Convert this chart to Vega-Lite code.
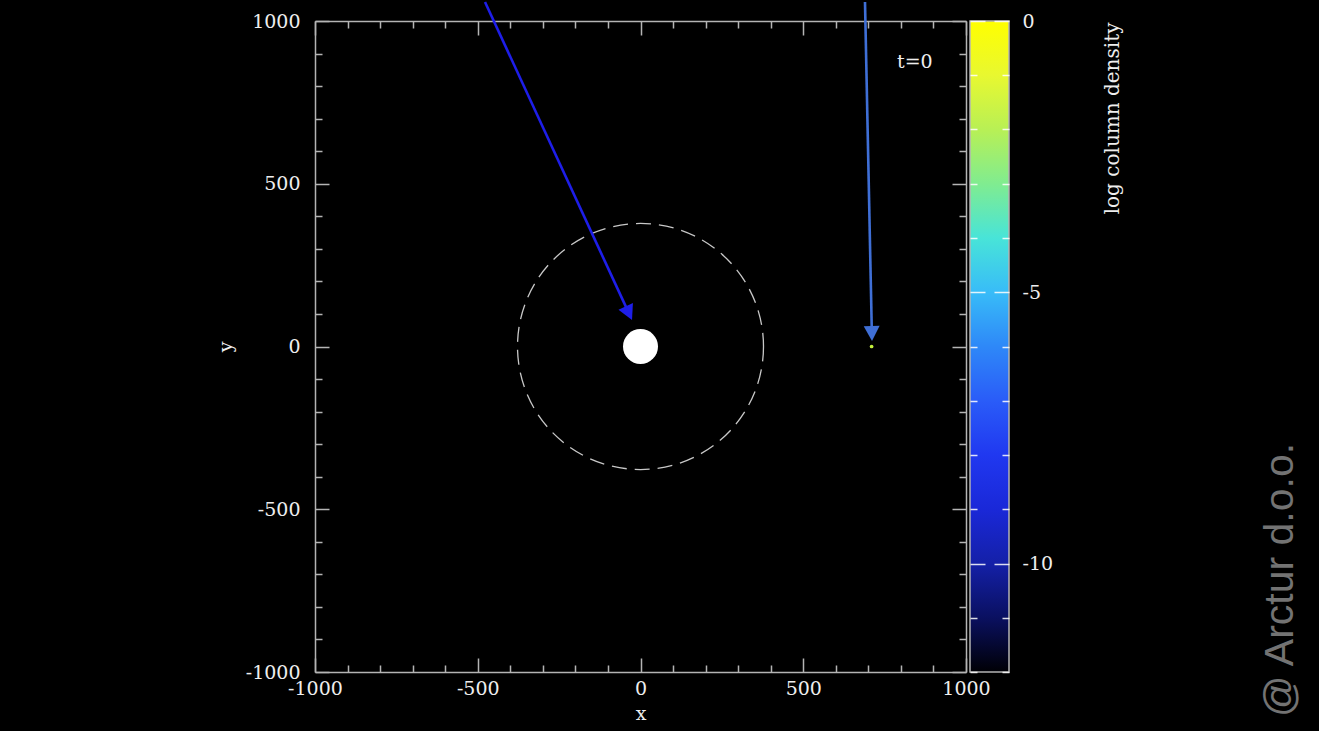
{
  "$schema": "https://vega.github.io/schema/vega-lite/v6.json",
  "background": "black",
  "padding": {"left": 216, "top": 0, "right": 18, "bottom": 8},
  "width": 651,
  "height": 651,
  "datasets": {
    "arrows": [
      {"id": "a", "x": -477.7, "y": 1058.4, "x2": -39.0, "y2": 109.4, "tx": -26.1, "ty": 81.4},
      {"id": "b", "x": 689.7, "y": 1058.4, "x2": 710.6, "y2": 47.6, "tx": 711.2, "ty": 16.9}
    ],
    "colorbar": [{"left": 1012.3, "right": 1132.1, "lo": -12, "hi": 0}]
  },
  "layer": [
    {
      "data": {"values": [{"x": 0, "y": 0, "name": "circle"}]},
      "mark": {"type": "point", "shape": "circle", "size": 60516, "filled": false, "stroke": "#c8c8c8", "strokeWidth": 1.3, "strokeDash": [15, 8], "opacity": 1},
      "encoding": {
        "x": {"field": "x", "type": "quantitative", "scale": {"domain": [-1000, 1000], "nice": false, "zero": false},
          "axis": {"orient": "bottom", "values": [-1000, -900, -800, -700, -600, -500, -400, -300, -200, -100, 0, 100, 200, 300, 400, 500, 600, 700, 800, 900, 1000],
            "tickSize": {"condition": {"test": "datum.value % 500 === 0", "value": -14}, "value": -7},
            "labelExpr": "datum.value % 500 === 0 ? '' + datum.value : ''",
            "labelPadding": 21, "labelFont": "DejaVu Serif", "labelFontSize": 19, "labelColor": "#eeeeee",
            "labelFlush": false, "labelOverlap": false, "labelBound": false,
            "domainColor": "#b4b4b4", "domainWidth": 1.5, "tickColor": "#b4b4b4", "tickWidth": 1.5, "grid": false,
            "title": "x", "titleFont": "DejaVu Serif", "titleFontSize": 19, "titleFontWeight": "normal", "titleColor": "#eeeeee",
            "titleX": 325.5, "titleY": 47, "titleBaseline": "alphabetic", "titleAlign": "center", "titleAngle": 0}},
        "y": {"field": "y", "type": "quantitative", "scale": {"domain": [-1000, 1000], "nice": false, "zero": false},
          "axis": {"orient": "left", "values": [-1000, -900, -800, -700, -600, -500, -400, -300, -200, -100, 0, 100, 200, 300, 400, 500, 600, 700, 800, 900, 1000],
            "tickSize": {"condition": {"test": "datum.value % 500 === 0", "value": -14}, "value": -7},
            "labelExpr": "datum.value % 500 === 0 ? '' + datum.value : ''",
            "labelPadding": 29, "labelFont": "DejaVu Serif", "labelFontSize": 19, "labelColor": "#eeeeee",
            "labelFlush": false, "labelOverlap": false, "labelBound": false,
            "domainColor": "#b4b4b4", "domainWidth": 1.5, "tickColor": "#b4b4b4", "tickWidth": 1.5, "grid": false,
            "title": "y", "titleFont": "DejaVu Serif", "titleFontSize": 19, "titleFontWeight": "normal", "titleColor": "#eeeeee",
            "titleX": -84, "titleY": 325.5, "titleBaseline": "alphabetic", "titleAlign": "center", "titleAngle": 270}}
      }
    },
    {
      "data": {"values": [{"x": 0, "y": 0, "name": "star"}]},
      "mark": {"type": "point", "shape": "circle", "size": 1225, "filled": true, "fill": "#ffffff", "opacity": 1, "strokeWidth": 0},
      "encoding": {
        "x": {"field": "x", "type": "quantitative", "scale": {"domain": [-1000, 1000], "nice": false, "zero": false},
          "axis": {"orient": "top", "values": [-1000, -900, -800, -700, -600, -500, -400, -300, -200, -100, 0, 100, 200, 300, 400, 500, 600, 700, 800, 900, 1000],
            "tickSize": {"condition": {"test": "datum.value % 500 === 0", "value": -14}, "value": -7},
            "labels": false, "title": null,
            "domainColor": "#b4b4b4", "domainWidth": 1.5, "tickColor": "#b4b4b4", "tickWidth": 1.5, "grid": false}},
        "y": {"field": "y", "type": "quantitative", "scale": {"domain": [-1000, 1000], "nice": false, "zero": false},
          "axis": {"orient": "right", "values": [-1000, -900, -800, -700, -600, -500, -400, -300, -200, -100, 0, 100, 200, 300, 400, 500, 600, 700, 800, 900, 1000],
            "tickSize": {"condition": {"test": "datum.value % 500 === 0", "value": -14}, "value": -7},
            "labels": false, "title": null,
            "domainColor": "#b4b4b4", "domainWidth": 1.5, "tickColor": "#b4b4b4", "tickWidth": 1.5, "grid": false}}
      }
    },
    {
      "data": {"values": [{"x": 710, "y": 0, "name": "companion"}]},
      "mark": {"type": "point", "shape": "circle", "size": 14, "filled": true, "fill": "#c4f03c", "opacity": 1, "strokeWidth": 0},
      "encoding": {
        "x": {"field": "x", "type": "quantitative", "axis": null},
        "y": {"field": "y", "type": "quantitative", "scale": {"domain": [-1000, 1000], "nice": false, "zero": false}, "axis": null}
      }
    },
    {
      "data": {"name": "arrows"},
      "transform": [{"filter": "datum.id === 'a'"}],
      "mark": {"type": "rule", "color": "#1e1ee8", "strokeWidth": 2.6, "clip": false},
      "encoding": {
        "x": {"field": "x", "type": "quantitative", "axis": null},
        "y": {"field": "y", "type": "quantitative", "scale": {"domain": [-1000, 1000], "nice": false, "zero": false}, "axis": null},
        "x2": {"field": "x2"},
        "y2": {"field": "y2"}
      }
    },
    {
      "data": {"name": "arrows"},
      "transform": [{"filter": "datum.id === 'a'"}],
      "mark": {"type": "point", "shape": "M0,0L-0.53,-1L0.53,-1Z", "size": 900, "filled": true, "color": "#1e1ee8", "opacity": 1, "angle": 335.2, "strokeWidth": 0},
      "encoding": {
        "x": {"field": "tx", "type": "quantitative", "axis": null},
        "y": {"field": "ty", "type": "quantitative", "scale": {"domain": [-1000, 1000], "nice": false, "zero": false}, "axis": null}
      }
    },
    {
      "data": {"name": "arrows"},
      "transform": [{"filter": "datum.id === 'b'"}],
      "mark": {"type": "rule", "color": "#3f6fd6", "strokeWidth": 2.6, "clip": false},
      "encoding": {
        "x": {"field": "x", "type": "quantitative", "axis": null},
        "y": {"field": "y", "type": "quantitative", "scale": {"domain": [-1000, 1000], "nice": false, "zero": false}, "axis": null},
        "x2": {"field": "x2"},
        "y2": {"field": "y2"}
      }
    },
    {
      "data": {"name": "arrows"},
      "transform": [{"filter": "datum.id === 'b'"}],
      "mark": {"type": "point", "shape": "M0,0L-0.53,-1L0.53,-1Z", "size": 900, "filled": true, "color": "#3f6fd6", "opacity": 1, "angle": 358.8, "strokeWidth": 0},
      "encoding": {
        "x": {"field": "tx", "type": "quantitative", "axis": null},
        "y": {"field": "ty", "type": "quantitative", "scale": {"domain": [-1000, 1000], "nice": false, "zero": false}, "axis": null}
      }
    },
    {
      "data": {"values": [{"x": 843, "y": 874, "label": "t=0"}]},
      "mark": {"type": "text", "font": "DejaVu Serif", "fontSize": 19, "color": "#eeeeee", "align": "center", "baseline": "middle"},
      "encoding": {
        "x": {"field": "x", "type": "quantitative", "axis": null},
        "y": {"field": "y", "type": "quantitative", "scale": {"domain": [-1000, 1000], "nice": false, "zero": false}, "axis": null},
        "text": {"field": "label"}
      }
    },
    {
      "data": {"values": [{"x": 2004, "y": -1138, "label": "@ Arctur d.o.o."}]},
      "mark": {"type": "text", "font": "Liberation Sans", "fontSize": 41, "color": "#737373", "align": "left", "baseline": "alphabetic", "angle": 270},
      "encoding": {
        "x": {"field": "x", "type": "quantitative", "axis": null},
        "y": {"field": "y", "type": "quantitative", "scale": {"domain": [-1000, 1000], "nice": false, "zero": false}, "axis": null},
        "text": {"field": "label"}
      }
    },
    {
      "data": {"name": "colorbar"},
      "mark": {"type": "rect", "stroke": "#b4b4b4", "strokeWidth": 1.5,
        "fill": {"gradient": "linear", "x1": 0, "y1": 1, "x2": 0, "y2": 0,
          "stops": [
            {"offset": 0, "color": "#000005"},
            {"offset": 0.0833, "color": "#0a1060"},
            {"offset": 0.1667, "color": "#1420a8"},
            {"offset": 0.25, "color": "#1a28d8"},
            {"offset": 0.3333, "color": "#2038f0"},
            {"offset": 0.4167, "color": "#2a5cf8"},
            {"offset": 0.5, "color": "#2e88f8"},
            {"offset": 0.5833, "color": "#38bcf8"},
            {"offset": 0.6667, "color": "#48e4d8"},
            {"offset": 0.75, "color": "#80ec90"},
            {"offset": 0.8333, "color": "#b8f055"},
            {"offset": 0.9167, "color": "#e8f830"},
            {"offset": 1, "color": "#ffff00"}
          ]}},
      "encoding": {
        "x": {"field": "left", "type": "quantitative", "axis": null},
        "x2": {"field": "right"},
        "y": {"field": "lo", "type": "quantitative", "scale": {"domain": [-12, 0], "nice": false, "zero": false},
          "axis": {"orient": "right", "offset": 43, "values": [-12, -11, -10, -9, -8, -7, -6, -5, -4, -3, -2, -1, 0],
            "tickSize": {"condition": {"test": "datum.value % 5 === 0", "value": -15}, "value": -7},
            "tickColor": "#ffffff", "tickOpacity": 0.85, "tickWidth": 1.5, "domain": false, "zindex": 2,
            "labelExpr": "datum.value % 5 === 0 ? '' + datum.value : ''",
            "labelPadding": 28, "labelFont": "DejaVu Serif", "labelFontSize": 19, "labelColor": "#eeeeee",
            "labelFlush": false, "labelOverlap": false, "labelBound": false, "grid": false,
            "title": "log column density", "titleFont": "DejaVu Serif", "titleFontSize": 20, "titleFontWeight": "normal", "titleColor": "#eeeeee",
            "titleAngle": 270, "titleAlign": "right", "titleBaseline": "alphabetic", "titleX": 109, "titleY": 1}},
        "y2": {"field": "hi"}
      }
    },
    {
      "data": {"name": "colorbar"},
      "mark": {"type": "rect", "opacity": 0},
      "encoding": {
        "x": {"field": "left", "type": "quantitative", "axis": null},
        "x2": {"field": "right"},
        "y": {"field": "lo", "type": "quantitative", "scale": {"domain": [-12, 0], "nice": false, "zero": false},
          "axis": {"orient": "left", "offset": -655, "values": [-12, -11, -10, -9, -8, -7, -6, -5, -4, -3, -2, -1, 0],
            "tickSize": {"condition": {"test": "datum.value % 5 === 0", "value": -15}, "value": -7},
            "tickColor": "#ffffff", "tickOpacity": 0.85, "tickWidth": 1.5, "domain": false, "zindex": 2,
            "labels": false, "title": null, "grid": false}},
        "y2": {"field": "hi"}
      }
    }
  ],
  "resolve": {"scale": {"y": "independent"}, "axis": {"x": "independent", "y": "independent"}},
  "config": {
    "view": {"stroke": null},
    "axis": {"grid": false, "minExtent": 0}
  }
}
